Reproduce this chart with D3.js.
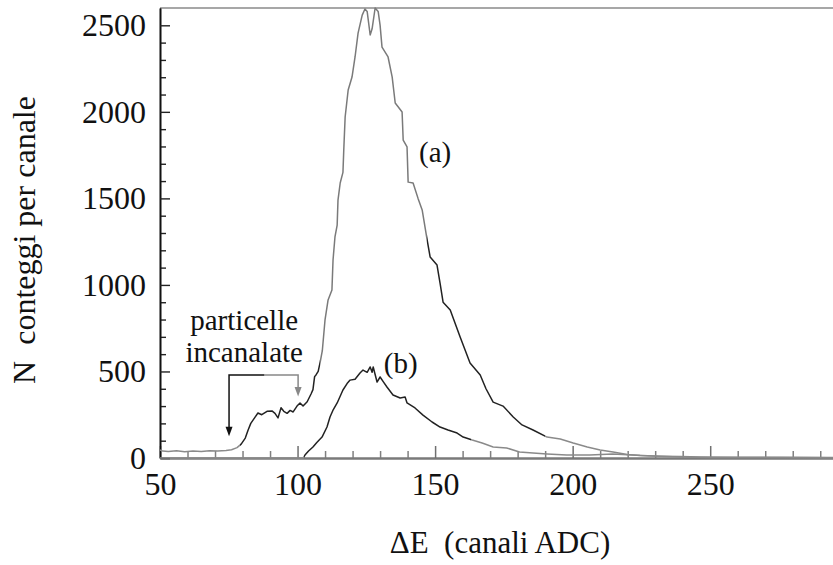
<!DOCTYPE html>
<html><head><meta charset="utf-8">
<script src="https://cdn.jsdelivr.net/npm/d3@7"></script>
<style>body{margin:0;background:#fff;} svg{display:block;}</style>
</head><body>
<script>
// ---- data ----
const chA = [50,51,53,56,59,62,65,68,71,74,76,78,79.5,81,82,83,84.5,85.6,87,88.9,90.7,91.8,92.9,94,95,96.2,97.3,98.4,99.8,100.9,102,103.5,104.9,105.6,106.2,106.7,107.5,108.3,109,110,111.1,112.5,112.9,113.6,114.4,114.7,115.5,116.5,116.8,117.3,118.4,119.8,120.9,122,123.5,124.5,125.3,126.4,127.1,128.2,129.3,130,130.7,132.9,134.4,135.5,138,138.4,139.8,140.2,142,143.8,145.3,147.1,148.2,150.7,151.8,152.9,155.5,159.1,162.7,166.4,168.5,171.1,174.7,178.4,181.6,185.6,190.7,195.5,200.2,205.3,210,214.7,219.8,224.5,231.8,239.1,246.4,260.9,275.5,295];
const cntA = [46,40,38,42,36,40,38,42,40,44,48,60,80,115,160,200,235,260,250,270,272,258,232,290,270,258,275,266,300,318,300,325,370,395,470,480,500,560,620,800,913,971,1144,1277,1346,1490,1589,1650,1779,1970,2126,2201,2317,2455,2559,2594,2580,2444,2480,2600,2580,2501,2374,2317,2201,2051,1999,1837,1797,1594,1589,1500,1433,1260,1161,1115,1011,900,855,699,549,480,400,323,300,237,191,162,121,110,87,64,46,35,20,14,10,8,6,5,4,3];
const chB = [50,102,102.7,104,105.6,107,108.9,110.7,111.8,113,114.4,116.5,118,119.1,120.9,122.7,123.8,125.3,126.4,127.1,127.5,128.9,130,131.2,132.5,134.7,137.3,139.1,139.8,142.7,145.6,148.9,151.8,154.7,158,160.2,163.5,167.1,171.1,176,180.7,185.6,190.7,197.8,206.2,214.5,221.8,229.1,239,250,295];
const cntB = [0,0,17,40,64,90,121,179,237,280,318,393,430,450,455,491,508,495,526,495,526,439,468,440,410,364,347,352,318,289,248,208,179,162,144,121,104,87,64,58,35,29,23,17,17,23,17,12,6,3,2];
const xTicks = [50,100,150,200,250];
const yTicks = [0,500,1000,1500,2000,2500];
const seriesLabels = ["(a)", "(b)"];
const annotationLines = ["particelle", "incanalate"];
const xTitle = "\u0394E  (canali ADC)";
const yTitle = "N  conteggi per canale";

// ---- pick an installed serif face ----
function hasFont(name) {
  const c = document.createElement("canvas").getContext("2d");
  const s = "abcdefghijklmnopqrstuvwxyzABCDEFGHIJ0123456789";
  const res = ["monospace", "sans-serif"].map(fb => {
    c.font = `40px ${fb}`; const w0 = c.measureText(s).width;
    c.font = `40px "${name}", ${fb}`; const w1 = c.measureText(s).width;
    return w0 !== w1;
  });
  return res[0] && res[1];
}
const cands = ["Liberation Serif", "Tinos", "Times New Roman", "DejaVu Serif", "Noto Serif", "FreeSerif"];
const found = cands.find(hasFont);
const FONT = found ? `"${found}", serif` : "serif";

// ---- layout ----
const W = 833, H = 565;
const L = 160, R = 834, T = 8, B = 458;
const svg = d3.select("body").append("svg").attr("width", W).attr("height", H);
const x = d3.scaleLinear().domain([50, 295]).range([L, R]);
const y = d3.scaleLinear().domain([0, 2600]).range([B, T]);

// scanned-look ink: segments alternate between dark and grey
const defs = svg.append("defs");
function inkGradient(id, stops) {
  const g = defs.append("linearGradient").attr("id", id).attr("gradientUnits", "userSpaceOnUse")
    .attr("x1", x(50)).attr("x2", x(295)).attr("y1", 0).attr("y2", 0);
  stops.forEach(([from, col]) => {
    const o = (from - 50) / 245;
    g.append("stop").attr("offset", o).attr("stop-color", col);
  });
  // hard edges
  const st = g.selectAll("stop").nodes();
  for (let i = st.length - 1; i > 0; i--) {
    const prevCol = stops[i - 1][1];
    g.insert("stop", () => st[i]).attr("offset", st[i].getAttribute("offset")).attr("stop-color", prevCol);
  }
}
inkGradient("inkA", [[50, "#8a8a8a"], [79, "#222"], [108, "#7a7a7a"], [147, "#222"], [190, "#8a8a8a"]]);
inkGradient("inkB", [[50, "#8a8a8a"], [102.5, "#222"], [163, "#8a8a8a"]]);

// top border
svg.append("line").attr("x1", L).attr("x2", W).attr("y1", T).attr("y2", T)
  .attr("stroke", "#8a8a8a").attr("stroke-width", 1.6);

// x axis (ticks inside, gray)
const gx = svg.append("g").attr("transform", `translate(0,${B})`);
gx.call(d3.axisBottom(x).tickValues(d3.range(60, 295, 10).filter(v => v % 50 !== 0)).tickSizeInner(-7).tickSizeOuter(0).tickFormat(""));
gx.selectAll(".tick line").attr("stroke", "#808080").attr("stroke-width", 1.5);
const gx2 = svg.append("g").attr("transform", `translate(0,${B})`);
gx2.call(d3.axisBottom(x).tickValues(xTicks).tickSizeInner(-12).tickSizeOuter(0).tickPadding(14).tickFormat(d3.format("d")));
[gx, gx2].forEach(g => g.select(".domain").attr("stroke", "#7a7a7a").attr("stroke-width", 2));
gx2.selectAll(".tick line").attr("stroke", "#707070").attr("stroke-width", 1.5);
gx2.attr("font-family", FONT);
gx2.selectAll("text").attr("font-size", 32).attr("fill", "#111");

// y axis (ticks inside, black)
const gy = svg.append("g").attr("transform", `translate(${L},0)`);
gy.call(d3.axisLeft(y).tickValues(d3.range(100, 2600, 100).filter(v => v % 500 !== 0)).tickSizeInner(-6).tickSizeOuter(0).tickFormat(""));
const gy2 = svg.append("g").attr("transform", `translate(${L},0)`);
gy2.call(d3.axisLeft(y).tickValues(yTicks).tickSizeInner(-10).tickSizeOuter(0).tickPadding(14).tickFormat(d3.format("d")));
[gy, gy2].forEach(g => {
  g.select(".domain").attr("stroke", "#111").attr("stroke-width", 1.6);
  g.selectAll(".tick line").attr("stroke", "#222").attr("stroke-width", 1.4);
});
gy2.attr("font-family", FONT);
gy2.selectAll("text").attr("font-size", 32).attr("fill", "#111");

// curves
const line = d3.line().x(d => x(d[0])).y(d => y(d[1]));
svg.append("path").datum(d3.zip(chB, cntB)).attr("d", line)
  .attr("fill", "none").attr("stroke", "url(#inkB)").attr("stroke-width", 1.5).attr("stroke-linejoin", "round");
svg.append("path").datum(d3.zip(chA, cntA)).attr("d", line)
  .attr("fill", "none").attr("stroke", "url(#inkA)").attr("stroke-width", 1.5).attr("stroke-linejoin", "round");

// series labels
svg.append("text").attr("font-family", FONT).attr("fill", "#111").attr("x", x(150)).attr("y", y(1710)).attr("text-anchor", "middle").attr("font-size", 29).text(seriesLabels[0]);
svg.append("text").attr("font-family", FONT).attr("fill", "#111").attr("x", x(137.5)).attr("y", y(490)).attr("text-anchor", "middle").attr("font-size", 29).text(seriesLabels[1]);

// annotation
const ann = svg.append("text").attr("font-family", FONT).attr("fill", "#111").attr("text-anchor", "middle").attr("font-size", 29);
ann.append("tspan").attr("x", x(80.6)).attr("y", y(740)).text(annotationLines[0]);
ann.append("tspan").attr("x", x(80.6)).attr("y", y(555)).text(annotationLines[1]);
// bracket with arrows
const aY = y(480);
svg.append("path").attr("d", `M${x(75.1)},${y(145)} V${aY} H${x(88)}`).attr("fill", "none").attr("stroke", "#111").attr("stroke-width", 1.5);
svg.append("path").attr("d", `M${x(88)},${aY} H${x(100.2)} V${y(380)}`).attr("fill", "none").attr("stroke", "#888").attr("stroke-width", 1.5);
svg.append("path").attr("d", `M${x(75.1)-3.5},${y(180)} L${x(75.1)},${y(125)} L${x(75.1)+3.5},${y(180)} Z`).attr("fill", "#111");
svg.append("path").attr("d", `M${x(100.2)-3.5},${y(410)} L${x(100.2)},${y(355)} L${x(100.2)+3.5},${y(410)} Z`).attr("fill", "#888");

// axis titles
svg.append("text").attr("font-family", FONT).attr("fill", "#111").attr("x", 500).attr("y", 553).attr("text-anchor", "middle").attr("font-size", 31)
  .style("white-space", "pre").text(xTitle);
svg.append("text").attr("font-family", FONT).attr("fill", "#111").attr("transform", "translate(35,240) rotate(-90)").attr("text-anchor", "middle").attr("font-size", 32)
  .style("white-space", "pre").text(yTitle);
</script>
</body></html>
